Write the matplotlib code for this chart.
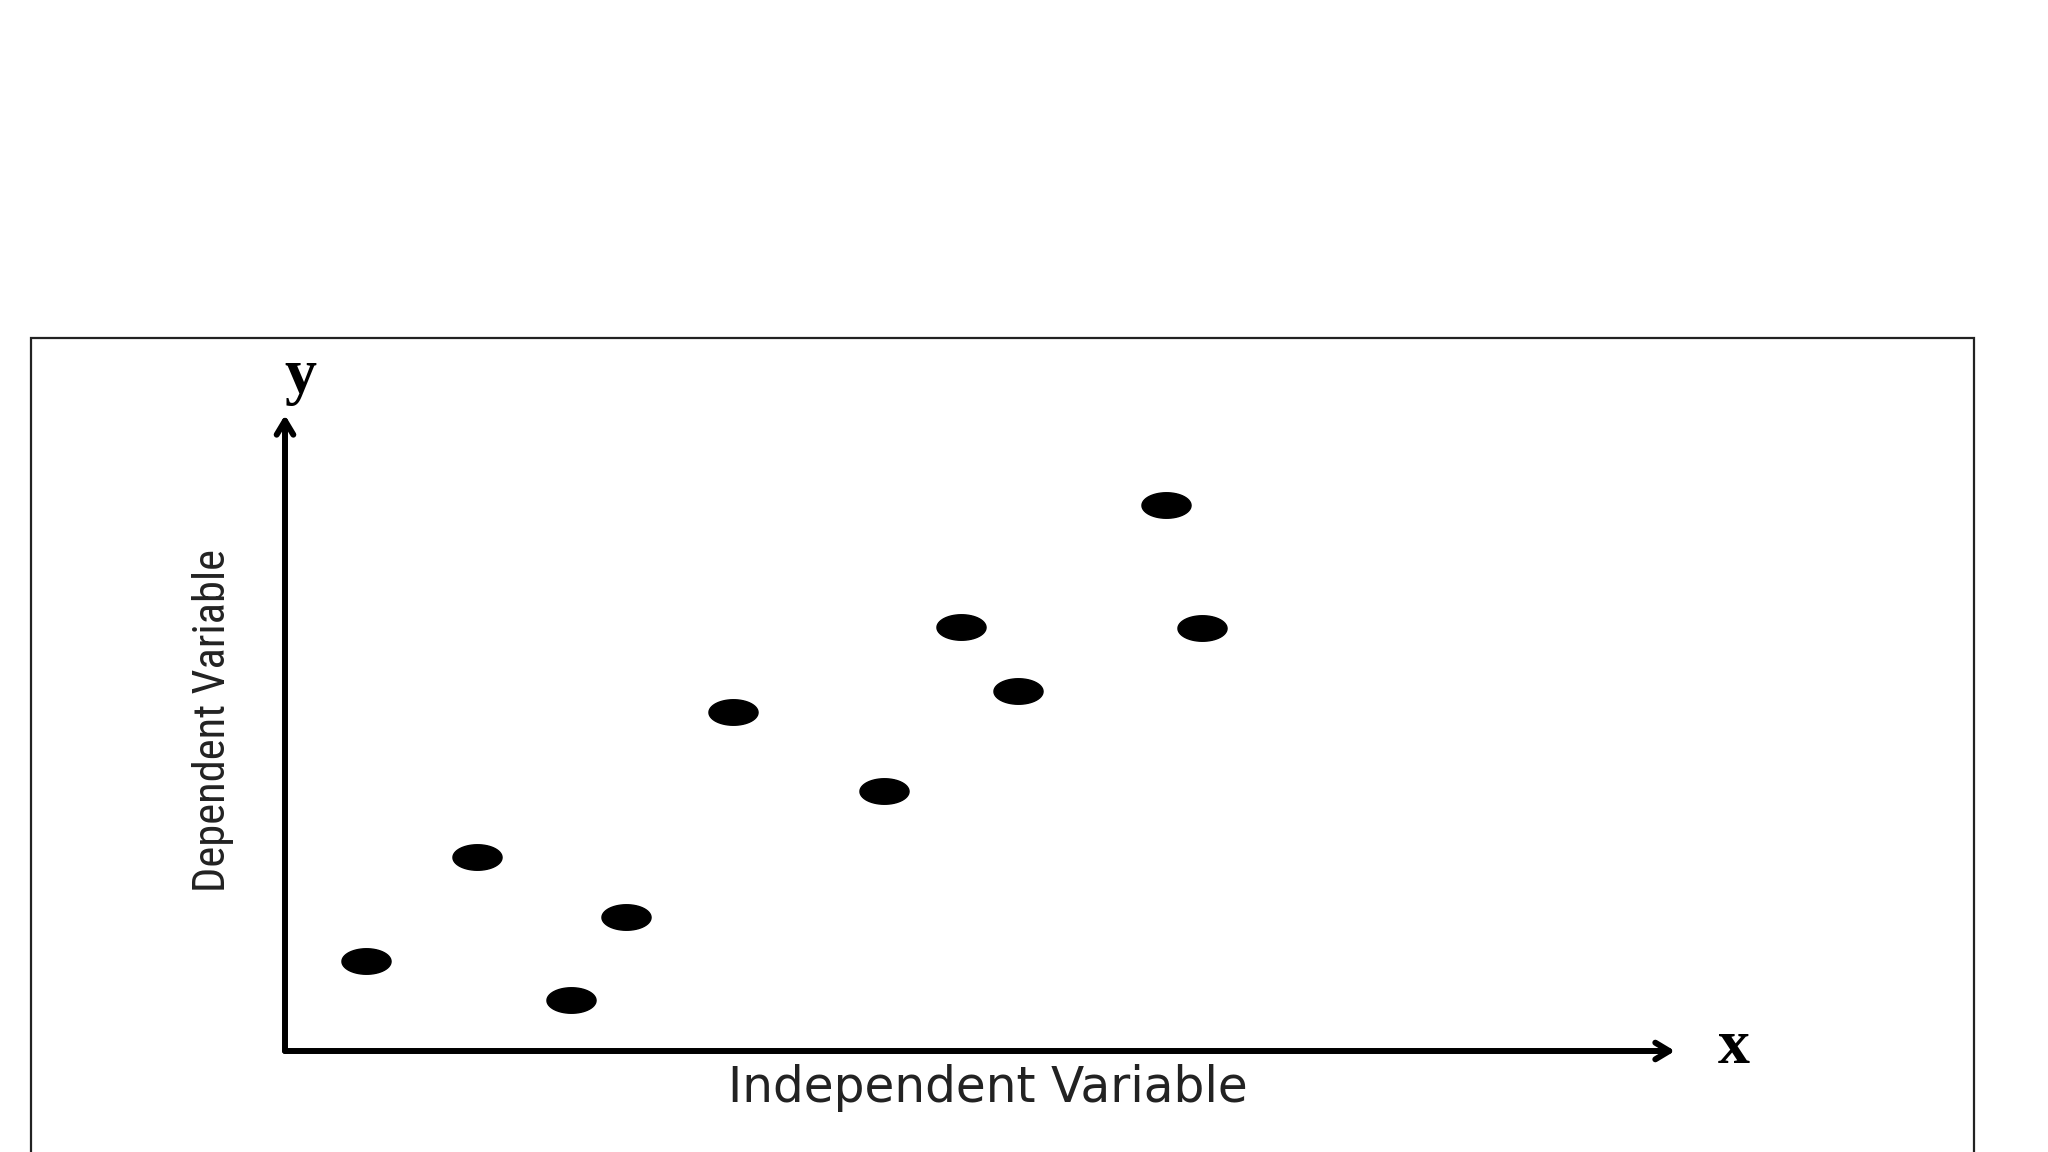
import matplotlib
matplotlib.use("Agg")
import matplotlib.pyplot as plt
from matplotlib import font_manager
from matplotlib.path import Path
from matplotlib.patches import Rectangle
import numpy as np

# data (axes run 0..100 both ways)
x_vals = [5.8, 13.8, 20.6, 24.5, 32.2, 43.1, 48.6, 52.7, 63.4, 66.0]
y_vals = [14.2, 30.5, 8.0, 21.1, 53.3, 40.9, 66.7, 56.6, 85.8, 66.5]

x_label = "Independent Variable"
y_label = "Dependent Variable"

installed = {f.name for f in font_manager.fontManager.ttflist}
narrow = next((f for f in ["Liberation Sans Narrow", "Roboto Condensed",
                           "DejaVu Sans Condensed", "Roboto"] if f in installed), "DejaVu Sans")

# flat ellipse marker
t = np.linspace(0, 2 * np.pi, 60)
ellipse = Path(np.column_stack([np.cos(t), 0.52 * np.sin(t)]), closed=True)

fig = plt.figure(figsize=(20.48, 11.52), dpi=100)
fig.patch.set_facecolor("white")
fig.patches.append(Rectangle((31 / 2048, -0.05), (1974 - 31) / 2048, 0.05 + (1152 - 338) / 1152,
                             transform=fig.transFigure, fill=False,
                             edgecolor="#222222", linewidth=1.6))

ax = fig.add_axes([285 / 2048, 101 / 1152, 1390 / 2048, 636 / 1152])
ax.set_xlim(0, 100)
ax.set_ylim(0, 100)
ax.axis("off")

ax.scatter(x_vals, y_vals, marker=ellipse, s=1250, color="black", zorder=3)

# axis arrows
arrow = dict(arrowstyle="->,head_length=1.0,head_width=0.6", color="black",
             lw=4.3, shrinkA=0, shrinkB=0)
ax.annotate("", xy=(1, 0), xytext=(0, 0), xycoords="axes fraction", arrowprops=arrow)
ax.annotate("", xy=(0, 1), xytext=(0, 0), xycoords="axes fraction", arrowprops=arrow)

ax.text(1.042, 0.005, "x", transform=ax.transAxes, ha="center", va="center",
        family="Liberation Serif", fontweight="bold", fontsize=46)
ax.text(0.011, 1.06, "y", transform=ax.transAxes, ha="center", va="center",
        family="Liberation Serif", fontweight="bold", fontsize=46)

ax.text(0.506, -0.058, x_label, transform=ax.transAxes, ha="center", va="center",
        family="DejaVu Sans", fontsize=35, color="#222222")
ax.text(-0.052, 0.519, y_label, transform=ax.transAxes, ha="center", va="center",
        rotation=90, family=narrow, fontsize=32, color="#222222")

fig.savefig("out.png", dpi=100)
